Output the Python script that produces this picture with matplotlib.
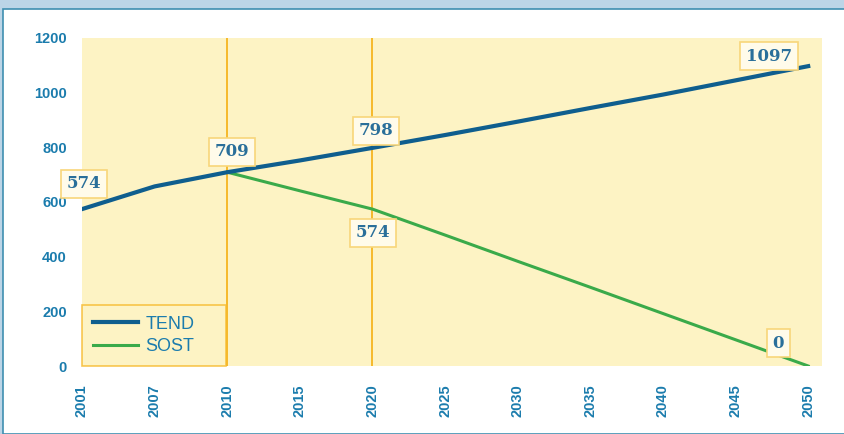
import matplotlib
matplotlib.use("Agg")
import matplotlib.pyplot as plt
from matplotlib.patches import Rectangle

years = ["2001", "2007", "2010", "2015", "2020", "2025", "2030", "2035", "2040", "2045", "2050"]
tend = [574, 657, 709, 752, 798, 845, 894, 944, 993, 1045, 1097]
sost = [None, None, 709, 641, 574, 479, 383, 288, 192, 96, 0]
y_ticks = [0, 200, 400, 600, 800, 1000, 1200]

# labelled points: (series index, value, label text)
labels_tend = [(0, 574, "574"), (2, 709, "709"), (4, 798, "798"), (10, 1097, "1097")]
labels_sost = [(4, 574, "574"), (10, 0, "0")]

blue_txt = "#1b7cad"
orange = "#f6b92a"
sans = ["Liberation Sans", "DejaVu Sans"]

fig = plt.figure(figsize=(8.44, 4.34), dpi=100)
fig.patch.set_facecolor("#bcd5e7")
fig.patches.append(Rectangle((3 / 844, 0), 1, 1 - 9 / 434, transform=fig.transFigure,
                             facecolor="white", edgecolor="#3f8fb0", linewidth=1.2, zorder=-10))

ax = fig.add_axes([82 / 844, 68 / 434, 740 / 844, 328 / 434])
ax.set_facecolor("#fdf3c4")
for s in ax.spines.values():
    s.set_visible(False)

x = list(range(len(years)))
ax.plot(x, tend, color="#0f5e8e", lw=3, label="TEND", zorder=4)
xs = [i for i, v in enumerate(sost) if v is not None]
ys = [v for v in sost if v is not None]
ax.plot(xs, ys, color="#3aaa4a", lw=2.2, label="SOST", zorder=3)

ax.axvline(2, color=orange, lw=1.4, zorder=2)
ax.axvline(4, color=orange, lw=1.4, zorder=2)

box = dict(boxstyle="square,pad=0.35", facecolor="#fffbea", edgecolor="#f8d67a", lw=1.2)
tprops = dict(fontsize=12, fontweight="bold", family="DejaVu Serif", color="#2a6f9a",
              ha="center", va="center", bbox=box, zorder=5)
# label placement (x shift, y position) in data units
pos_t = {0: (0.03, 666), 2: (0.07, 783), 4: (0.05, 860), 10: (-0.54, 1134)}
for i, v, t in labels_tend:
    ax.text(i + pos_t[i][0], pos_t[i][1], t, **tprops)
pos_s = {4: (0.01, 487), 10: (-0.41, 84)}
for i, v, t in labels_sost:
    ax.text(i + pos_s[i][0], pos_s[i][1], t, **tprops)

ax.set_xlim(0, 10.19)
ax.set_ylim(0, 1200)
ax.set_xticks(x)
ax.set_xticklabels(years, rotation=90, fontsize=10.5, fontweight="bold", color=blue_txt, family=sans)
ax.set_yticks(y_ticks)
ax.set_yticklabels([str(v) for v in y_ticks], fontsize=10.5, fontweight="bold", color=blue_txt,
                   family=sans)
ax.tick_params(axis="x", length=0, pad=13)
ax.tick_params(axis="y", length=0, pad=11)

leg = ax.legend(loc="lower left", bbox_to_anchor=(0, 0, 144 / 740, 0.2), mode="expand",
                borderaxespad=0, prop={"family": sans, "size": 13},
                frameon=True, fancybox=False, handlelength=2.5, handletextpad=0.4,
                labelspacing=0.3, borderpad=0.6)
leg.get_frame().set_facecolor("#fdf3c4")
leg.get_frame().set_edgecolor(orange)
leg.get_frame().set_linewidth(1.2)
for t in leg.get_texts():
    t.set_color(blue_txt)
leg.set_zorder(6)

fig.savefig("out.png", dpi=100, facecolor=fig.get_facecolor())
